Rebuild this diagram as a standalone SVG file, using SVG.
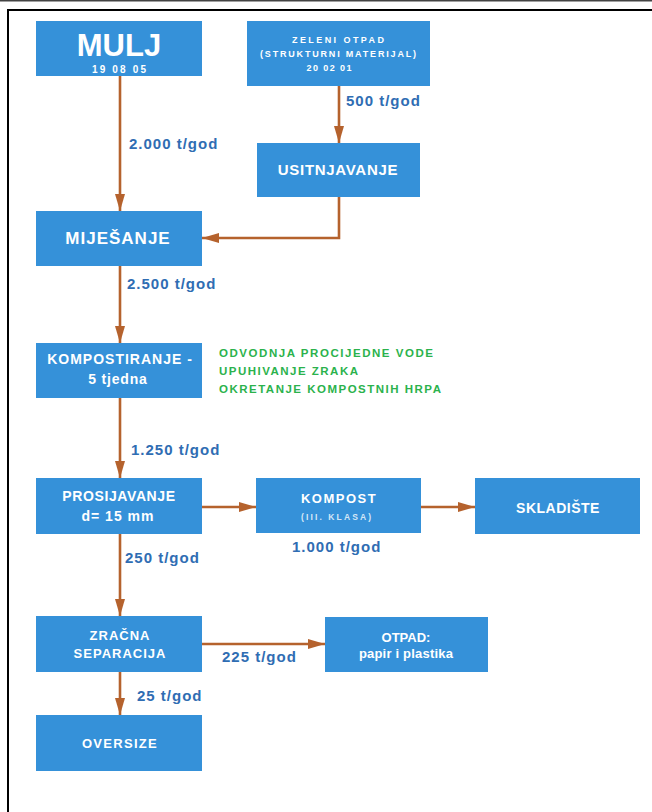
<svg xmlns="http://www.w3.org/2000/svg" width="652" height="812" viewBox="0 0 652 812">
<defs>
<style>
.box{fill:#3591d9}
.t{font-family:"Liberation Sans",Arial,sans-serif;font-weight:bold;fill:#fff;text-anchor:middle}
.lbl{font-family:"Liberation Sans",Arial,sans-serif;font-weight:bold;font-size:15px;fill:#2f6db3;letter-spacing:1px}
.grn{font-family:"Liberation Sans",Arial,sans-serif;font-weight:bold;font-size:11.5px;fill:#2bb24c}
.c{fill:none;stroke:#b5622d;stroke-width:2.6}
</style>
<marker id="ah" markerUnits="userSpaceOnUse" markerWidth="18" markerHeight="12" refX="17" refY="6" orient="auto">
<path d="M0,1 L17,6 L0,11 z" fill="#b5622d"/>
</marker>
</defs>
<rect x="0" y="0" width="652" height="812" fill="#fff"/>
<rect x="0" y="0" width="652" height="1.5" fill="#444"/>
<line x1="8" y1="10" x2="652" y2="10" stroke="#000" stroke-width="2"/>
<line x1="8" y1="9" x2="8" y2="812" stroke="#000" stroke-width="2"/>

<g id="connectors">
<line class="c" x1="120" y1="76" x2="120" y2="211" marker-end="url(#ah)"/>
<line class="c" x1="339" y1="86" x2="339" y2="143" marker-end="url(#ah)"/>
<polyline class="c" points="339,197 339,238 202,238" marker-end="url(#ah)"/>
<line class="c" x1="120" y1="266" x2="120" y2="343" marker-end="url(#ah)"/>
<line class="c" x1="120" y1="398" x2="120" y2="478" marker-end="url(#ah)"/>
<line class="c" x1="202" y1="507" x2="256" y2="507" marker-end="url(#ah)"/>
<line class="c" x1="421" y1="507" x2="475" y2="507" marker-end="url(#ah)"/>
<line class="c" x1="120" y1="534" x2="120" y2="616" marker-end="url(#ah)"/>
<line class="c" x1="202" y1="644" x2="325" y2="644" marker-end="url(#ah)"/>
<line class="c" x1="120" y1="672" x2="120" y2="715" marker-end="url(#ah)"/>
</g>

<g id="labels">
<text class="lbl" x="129" y="149">2.000 t/god</text>
<text class="lbl" x="346" y="106">500 t/god</text>
<text class="lbl" x="127" y="289">2.500 t/god</text>
<text class="lbl" x="131" y="455">1.250 t/god</text>
<text class="lbl" x="292" y="552">1.000 t/god</text>
<text class="lbl" x="125" y="563">250 t/god</text>
<text class="lbl" x="222" y="662">225 t/god</text>
<text class="lbl" x="137" y="701">25 t/god</text>
</g>

<g id="notes">
<text class="grn" x="219" y="357" textLength="214" lengthAdjust="spacing">ODVODNJA PROCIJEDNE VODE</text>
<text class="grn" x="219" y="375" textLength="139" lengthAdjust="spacing">UPUHIVANJE ZRAKA</text>
<text class="grn" x="219" y="393" textLength="222" lengthAdjust="spacing">OKRETANJE KOMPOSTNIH HRPA</text>
</g>

<g id="mulj">
<rect class="box" x="36" y="21" width="166" height="55"/>
<text class="t" x="119" y="56" font-size="31">MULJ</text>
<text class="t" x="119" y="73" font-size="10" textLength="54" lengthAdjust="spacing">19 08 05</text>
</g>

<g id="zeleni-otpad">
<rect class="box" x="247" y="21" width="183" height="65"/>
<text class="t" x="338" y="43" font-size="9" textLength="92" lengthAdjust="spacing">ZELENI OTPAD</text>
<text class="t" x="338" y="57" font-size="9" textLength="156" lengthAdjust="spacing">(STRUKTURNI MATERIJAL)</text>
<text class="t" x="329" y="71" font-size="9" textLength="45" lengthAdjust="spacing">20 02 01</text>
</g>

<g id="usitnjavanje">
<rect class="box" x="257" y="143" width="163" height="54"/>
<text class="t" x="338" y="175" font-size="15" letter-spacing="0.7">USITNJAVANJE</text>
</g>

<g id="mijesanje">
<rect class="box" x="36" y="211" width="166" height="55"/>
<text class="t" x="118" y="244" font-size="17" letter-spacing="1">MIJEŠANJE</text>
</g>

<g id="kompostiranje">
<rect class="box" x="36" y="343" width="166" height="55"/>
<text class="t" x="120" y="364" font-size="14" letter-spacing="1">KOMPOSTIRANJE -</text>
<text class="t" x="118" y="384" font-size="14" letter-spacing="0.8">5 tjedna</text>
</g>

<g id="prosijavanje">
<rect class="box" x="36" y="478" width="166" height="56"/>
<text class="t" x="119" y="501" font-size="14" letter-spacing="0.6">PROSIJAVANJE</text>
<text class="t" x="118" y="521" font-size="14" letter-spacing="1">d= 15 mm</text>
</g>

<g id="kompost">
<rect class="box" x="256" y="478" width="165" height="55"/>
<text class="t" x="339" y="503" font-size="13" letter-spacing="1.5">KOMPOST</text>
<text class="t" x="336" y="520" font-size="8.5" fill-opacity="0.8" textLength="70" lengthAdjust="spacing">(III. KLASA)</text>
</g>

<g id="skladiste">
<rect class="box" x="475" y="478" width="165" height="56"/>
<text class="t" x="558" y="513" font-size="14" letter-spacing="0.5">SKLADIŠTE</text>
</g>

<g id="zracna-separacija">
<rect class="box" x="36" y="616" width="166" height="56"/>
<text class="t" x="120" y="640" font-size="13" letter-spacing="1">ZRAČNA</text>
<text class="t" x="120" y="658" font-size="13" letter-spacing="1">SEPARACIJA</text>
</g>

<g id="otpad">
<rect class="box" x="325" y="617" width="163" height="55"/>
<text class="t" x="406" y="642" font-size="13">OTPAD:</text>
<text class="t" x="406" y="658" font-size="13" letter-spacing="0.2">papir i plastika</text>
</g>

<g id="oversize">
<rect class="box" x="36" y="715" width="166" height="56"/>
<text class="t" x="120" y="748" font-size="13" letter-spacing="1.3">OVERSIZE</text>
</g>
</svg>
